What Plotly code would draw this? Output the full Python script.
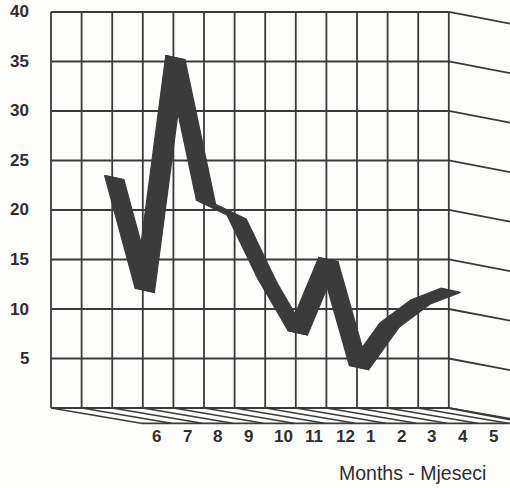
import plotly.graph_objects as go

# Monthly values (June through May)
months = ["6", "7", "8", "9", "10", "11", "12", "1", "2", "3", "4", "5"]
values = [23.5, 12.1, 35.6, 21.0, 19.5, 13.1, 7.8, 15.2, 4.3, 8.6, 10.9, 12.1]
y_ticks = [5, 10, 15, 20, 25, 30, 35, 40]

# Geometry of the pseudo-3D frame (x in column units, y in value units)
N_COLS = 13
Y_MAX = 40
FIRST_POINT = 1.75          # column position of the first month on the back wall
LABEL_SHIFT = 3.235         # left edge of the first month label on the floor front
RIBBON_DX, RIBBON_DY = 0.63, -0.42   # depth of the line ribbon
FLOOR_DX, FLOOR_DY = 2.94, -1.55     # depth of the floor
WALL_SLOPE = -0.59                   # side wall receding lines
X_RANGE = [-1.667, 15.0]
Y_RANGE = [-8.08, 41.21]

INK = "#3a3a3a"
TEXT = "#2e2e2e"
PAPER = "#fdfdfb"

fig = go.Figure()
shapes = []

def seg(x0, y0, x1, y1, w=1.8):
    shapes.append(dict(type="line", xref="x", yref="y", x0=x0, y0=y0, x1=x1, y1=y1,
                       line=dict(color=INK, width=w), layer="below"))

# back wall grid
for v in range(0, Y_MAX + 1, 5):
    seg(0, v, N_COLS, v)
for k in range(N_COLS + 1):
    seg(k, 0, k, Y_MAX)

# right side wall lines
for v in range(0, Y_MAX + 1, 5):
    seg(N_COLS, v, N_COLS + 2.5, v + WALL_SLOPE * 2.5)

# floor hatching and front edge
for k in range(N_COLS + 1):
    seg(k, 0, k + FLOOR_DX, FLOOR_DY, w=1.5)
seg(FLOOR_DX, FLOOR_DY, X_RANGE[1] + 0.5, FLOOR_DY)

# thick ribbon line: one quad per segment
xs = [FIRST_POINT + i for i in range(len(values))]
for i in range(len(values) - 1):
    x0, y0, x1, y1 = xs[i], values[i], xs[i + 1], values[i + 1]
    fig.add_trace(go.Scatter(
        x=[x0, x1, x1 + RIBBON_DX, x0 + RIBBON_DX, x0],
        y=[y0, y1, y1 + RIBBON_DY, y0 + RIBBON_DY, y0],
        mode="lines", fill="toself", fillcolor="#3b3b3b",
        line=dict(color="#3b3b3b", width=1.2), hoverinfo="skip",
    ))

annotations = []
for v in y_ticks:
    annotations.append(dict(x=-0.654, y=v, xref="x", yref="y", text=str(v),
                            showarrow=False, xanchor="right", yanchor="middle",
                            font=dict(family="Liberation Sans, Arial", size=17,
                                      color=TEXT, weight="bold")))
for j, m in enumerate(months):
    annotations.append(dict(x=LABEL_SHIFT + j, y=-2.83, xref="x", yref="y", text=m,
                            showarrow=False, xanchor="left", yanchor="middle",
                            font=dict(family="Liberation Sans, Arial", size=17,
                                      color=TEXT, weight="bold")))
annotations.append(dict(x=9.36, y=-6.57, xref="x", yref="y", text="Months - Mjeseci",
                        showarrow=False, xanchor="left", yanchor="middle",
                        font=dict(family="Liberation Sans, Arial", size=19.5, color=TEXT)))

fig.update_layout(
    width=510, height=488,
    margin=dict(l=0, r=0, t=0, b=0),
    paper_bgcolor=PAPER, plot_bgcolor=PAPER,
    showlegend=False,
    xaxis=dict(visible=False, range=X_RANGE, fixedrange=True),
    yaxis=dict(visible=False, range=Y_RANGE, fixedrange=True),
    shapes=shapes, annotations=annotations,
)

fig.write_html("out.html")
